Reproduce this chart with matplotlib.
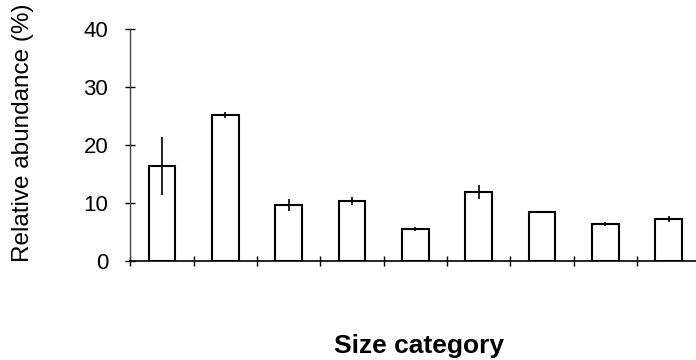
import matplotlib.pyplot as plt

# Size category data
categories = list(range(9))
abundance = [16.4, 25.2, 9.7, 10.3, 5.5, 11.9, 8.4, 6.4, 7.2]
errors = [5.0, 0.5, 1.0, 0.7, 0.3, 1.2, 0.2, 0.3, 0.5]

plt.rcParams['font.family'] = ['Liberation Sans', 'DejaVu Sans']

fig = plt.figure(figsize=(6.96, 3.6), dpi=100)
ax = fig.add_axes([0.187, 0.275, 0.813, 0.644])

ax.bar(categories, abundance, width=0.42, color='white', edgecolor='black', linewidth=1.5)
ax.errorbar(categories, abundance, yerr=errors, fmt='none', ecolor='black',
            elinewidth=1.2, capsize=0)

ax.set_xlim(-0.5, 8.43)
ax.set_ylim(0, 40)
ax.set_yticks([0, 10, 20, 30, 40])
ax.set_xticks([i + 0.5 for i in range(-1, 8)])
ax.set_xticklabels([])

for side in ['top', 'right']:
    ax.spines[side].set_visible(False)
ax.spines['left'].set_color('#444444')
ax.spines['left'].set_linewidth(1.0)
ax.spines['bottom'].set_linewidth(1.2)

ax.tick_params(axis='both', direction='inout', length=7.5, width=1.0, labelsize=16, pad=12)

fig.text(0.033, 0.63, 'Relative abundance (%)', rotation=90, fontsize=17.5,
         ha='center', va='center')
fig.text(0.602, 0.02, 'Size category', fontsize=19, fontweight='bold',
         ha='center', va='baseline')

fig.savefig('out.png', dpi=100)
